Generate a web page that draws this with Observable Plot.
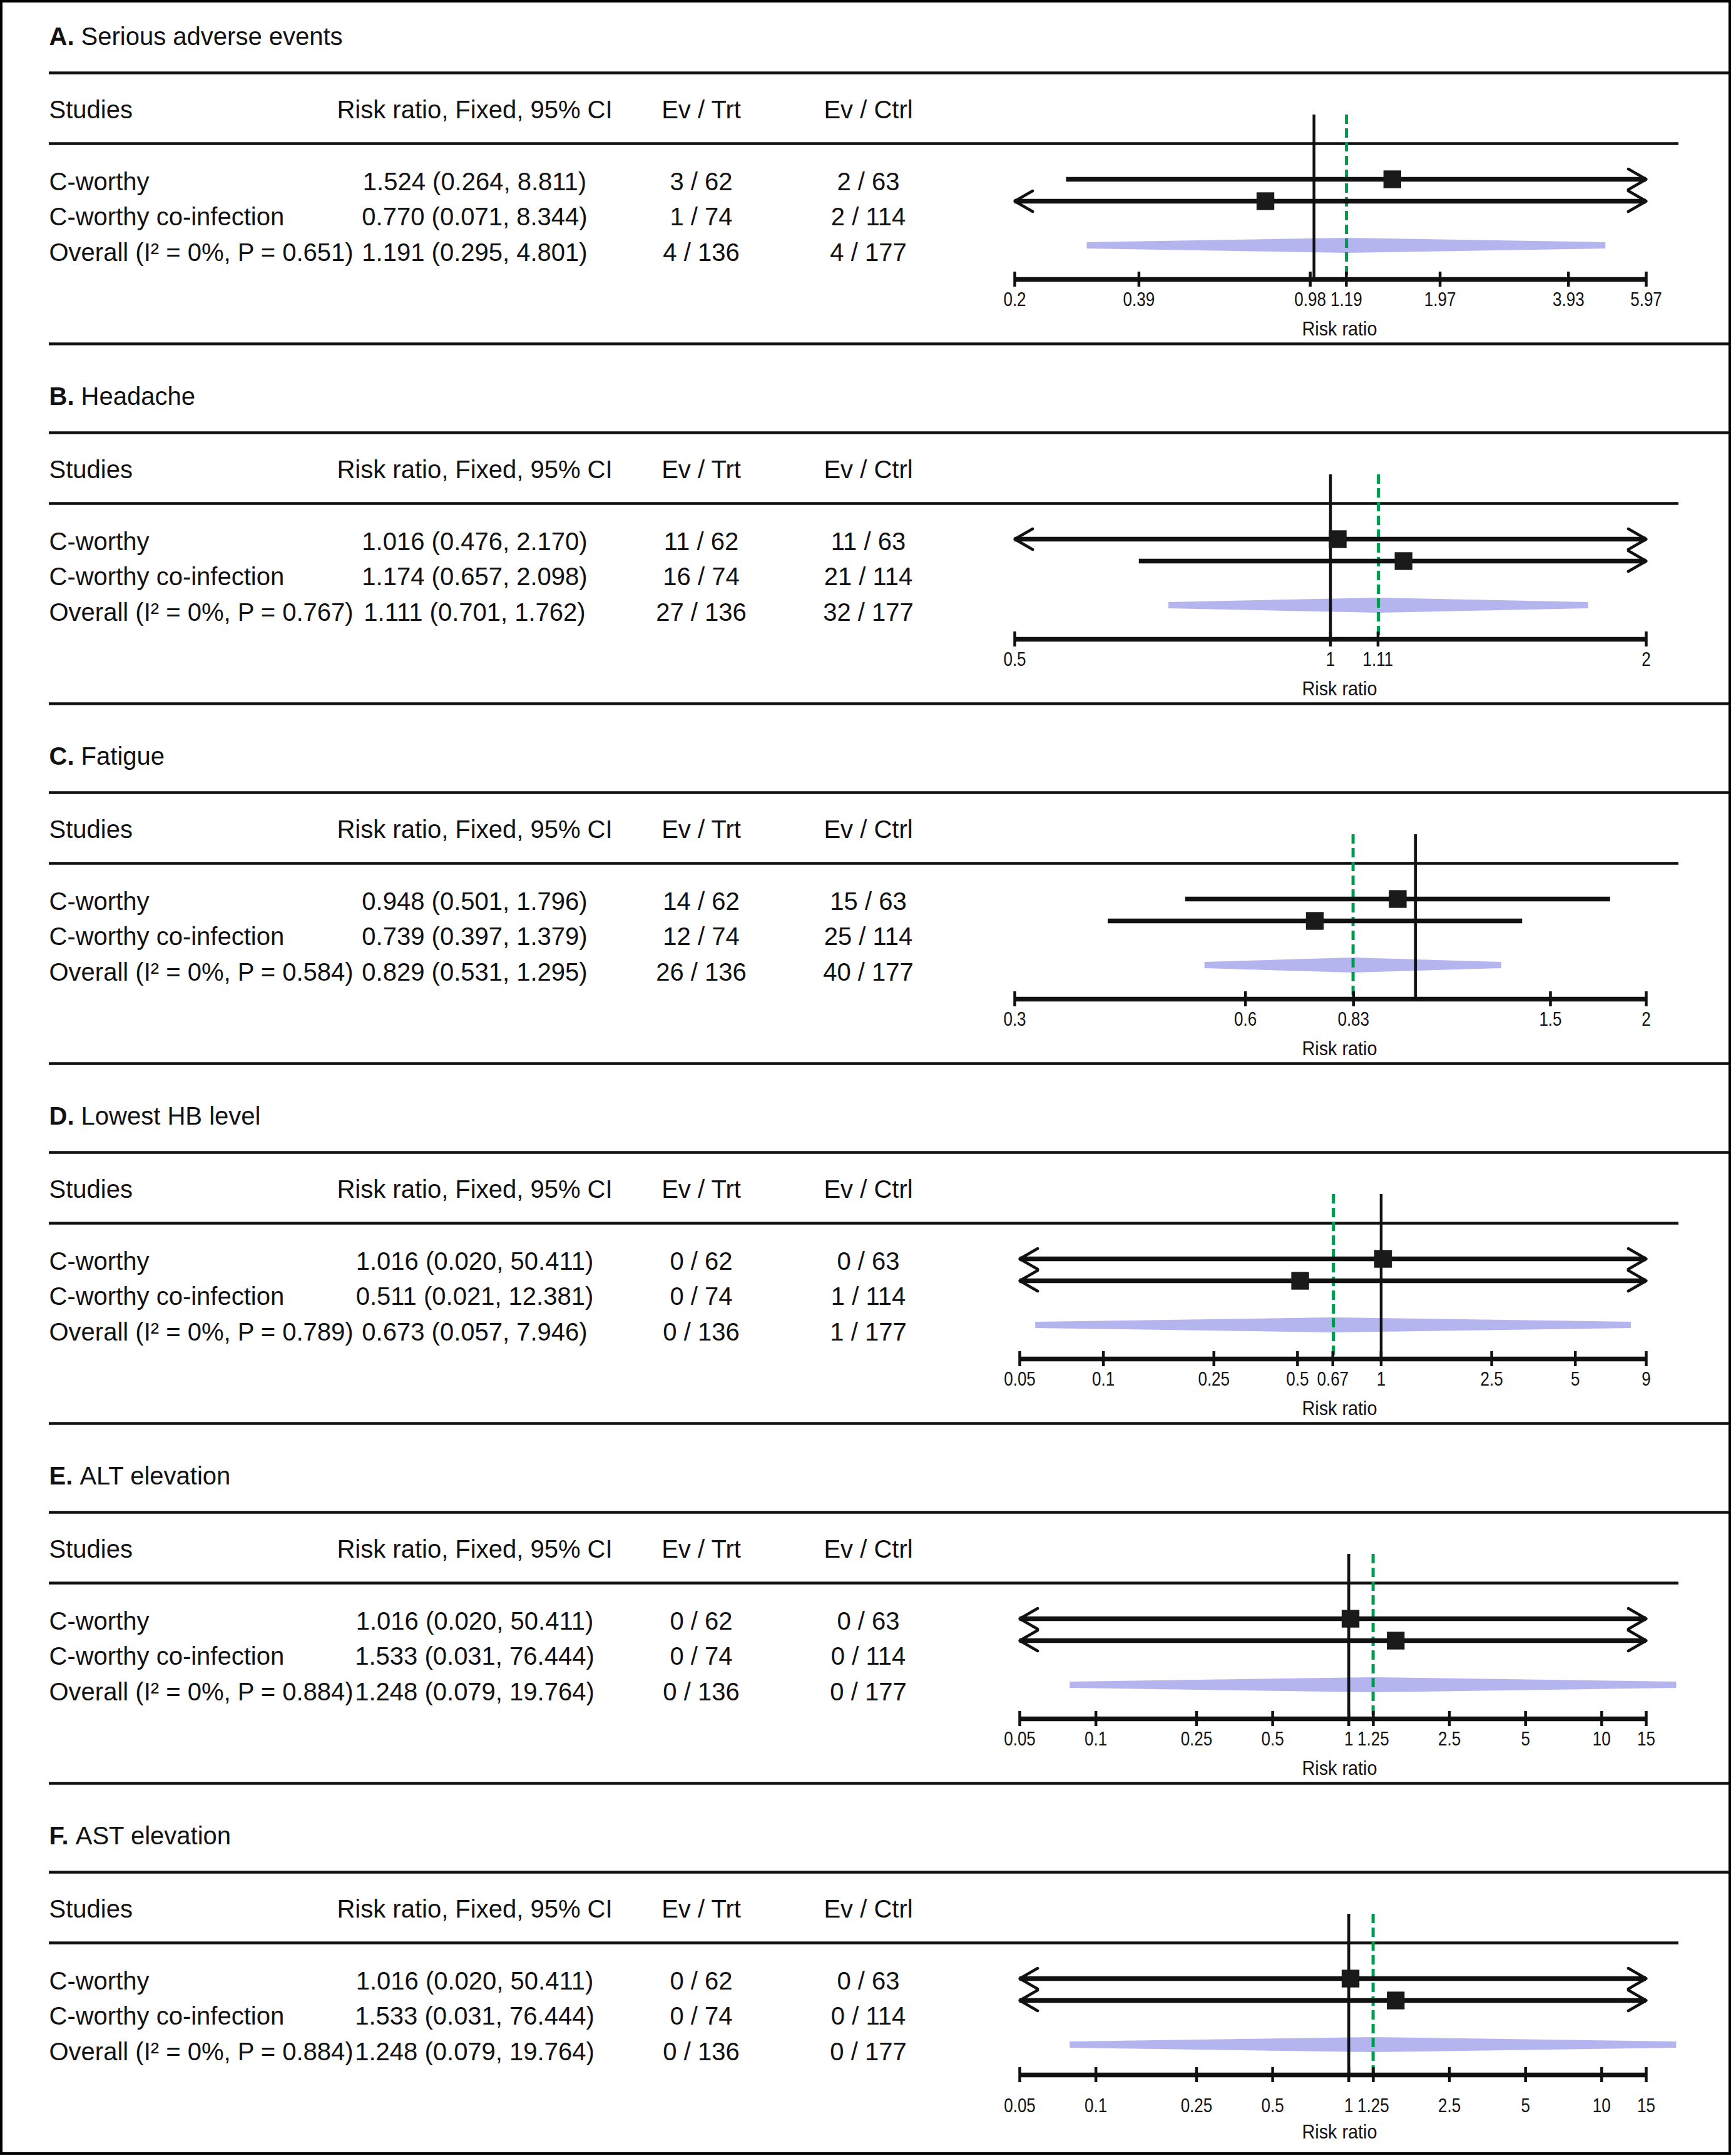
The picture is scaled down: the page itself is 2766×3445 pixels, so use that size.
<!DOCTYPE html>
<html>
<head>
<meta charset="utf-8">
<script src="https://cdn.jsdelivr.net/npm/d3@7"></script>
<script src="https://cdn.jsdelivr.net/npm/@observablehq/plot@0.6"></script>
<style>
html, body { margin: 0; padding: 0; background: #fff; }
#fig { position: relative; width: 2766px; height: 3445px; overflow: hidden; background: #fff; }
#frame { position: absolute; left: 0; top: 0; width: 2766px; height: 3443px; box-sizing: border-box; border: 4px solid #000; pointer-events: none; z-index: 5; }
.panel { position: absolute; left: 0; }
</style>
</head>
<body>
<div id="fig"><div id="frame"></div></div>
<script>
// ---------------- DATA ----------------
const panelLetters = ["A", "B", "C", "D", "E", "F"];
const panelTitles = ["Serious adverse events", "Headache", "Fatigue", "Lowest HB level", "ALT elevation", "AST elevation"];
const studies = ["C-worthy", "C-worthy co-infection"];
const studyRR = [[1.524, 0.770], [1.016, 1.174], [0.948, 0.739], [1.016, 0.511], [1.016, 1.533], [1.016, 1.533]];
const studyLo = [[0.264, 0.071], [0.476, 0.657], [0.501, 0.397], [0.020, 0.021], [0.020, 0.031], [0.020, 0.031]];
const studyHi = [[8.811, 8.344], [2.170, 2.098], [1.796, 1.379], [50.411, 12.381], [50.411, 76.444], [50.411, 76.444]];
const overallRR = [1.191, 1.111, 0.829, 0.673, 1.248, 1.248];
const overallLo = [0.295, 0.701, 0.531, 0.057, 0.079, 0.079];
const overallHi = [4.801, 1.762, 1.295, 7.946, 19.764, 19.764];
const heterogeneityI2 = [0, 0, 0, 0, 0, 0];
const heterogeneityP = ["0.651", "0.767", "0.584", "0.789", "0.884", "0.884"];
const eventsTrt = [[3, 1], [11, 16], [14, 12], [0, 0], [0, 0], [0, 0]];
const eventsCtrl = [[2, 2], [11, 21], [15, 25], [0, 1], [0, 0], [0, 0]];
const nTrt = [62, 74];
const nCtrl = [63, 114];
const axisDomains = [[0.2, 5.97], [0.5, 2], [0.3, 2], [0.05, 9], [0.05, 15], [0.05, 15]];
const axisTicks = [
  [0.2, 0.39, 0.98, 1.19, 1.97, 3.93, 5.97],
  [0.5, 1, 1.11, 2],
  [0.3, 0.6, 0.83, 1.5, 2],
  [0.05, 0.1, 0.25, 0.5, 0.67, 1, 2.5, 5, 9],
  [0.05, 0.1, 0.25, 0.5, 1, 1.25, 2.5, 5, 10, 15],
  [0.05, 0.1, 0.25, 0.5, 1, 1.25, 2.5, 5, 10, 15]
];
const headerLabels = ["Studies", "Risk ratio, Fixed, 95% CI", "Ev / Trt", "Ev / Ctrl"];
const nullValue = 1;
const axisTitle = "Risk ratio";

// ---------------- LAYOUT ----------------
const FONT = "'Liberation Sans', Arial, Helvetica, sans-serif";
const W = 2766, TOTAL_H = 3445, PITCH = 575;
const LEFT = 78, RIGHT_FRAME = 2763, RULE2_END = 2682, AXIS_END = 2630;
const TICK_FS = 31, AXIS_FS = 32;
const BASE = {title: 59, rule1: 116, header: 176, rule2: 229, rows: [291, 347, 404],
  vertTop: 183, ci: [286, 321], diamond: 392, axis: 446, tickLab: 479, axisLab: 525, sep: 549};
const colDx = {label: 0, ci: 680, trt: 1042, ctrl: 1309};
const fig = document.getElementById("fig");
const ctx = document.createElement("canvas").getContext("2d");
const fmt3 = v => v.toFixed(3);

// horizontally condense text of a given font size (mimics the narrow face of the original)
function condense(svg, fs, sx) {
  svg.querySelectorAll(`g[font-size="${fs}"] text`).forEach(t => {
    const tr = t.getAttribute("transform");
    if (tr) t.setAttribute("transform", `${tr} scale(${sx},1)`);
  });
}

panelLetters.forEach((letter, k) => {
  const last = k === panelLetters.length - 1;
  const H = last ? TOTAL_H - k * PITCH : PITCH;
  const lay = last ? {...BASE, axis: 440, tickLab: 490, axisLab: 531} : BASE;
  const dom = axisDomains[k];
  const range = [dom[0] < 0.1 ? 1629 : 1621, AXIS_END];
  const xs = d3.scaleLog().domain(dom).range(range);
  const clamp = v => Math.max(dom[0], Math.min(dom[1], v));

  const rows = studies.map((s, i) => ({
    label: s,
    rr: studyRR[k][i], lo: studyLo[k][i], hi: studyHi[k][i],
    ci: `${fmt3(studyRR[k][i])} (${fmt3(studyLo[k][i])}, ${fmt3(studyHi[k][i])})`,
    trt: `${eventsTrt[k][i]} / ${nTrt[i]}`,
    ctrl: `${eventsCtrl[k][i]} / ${nCtrl[i]}`,
    yText: lay.rows[i], yCI: lay.ci[i]
  }));
  const overall = {
    label: `Overall (I² = ${heterogeneityI2[k]}%, P = ${heterogeneityP[k]})`,
    ci: `${fmt3(overallRR[k])} (${fmt3(overallLo[k])}, ${fmt3(overallHi[k])})`,
    trt: `${d3.sum(eventsTrt[k])} / ${d3.sum(nTrt)}`,
    ctrl: `${d3.sum(eventsCtrl[k])} / ${d3.sum(nCtrl)}`,
    yText: lay.rows[2]
  };
  const table = [
    {label: headerLabels[0], ci: headerLabels[1], trt: headerLabels[2], ctrl: headerLabels[3], yText: lay.header},
    ...rows, overall
  ];

  const yc = lay.diamond;
  const diamond = [
    {x: overallLo[k], y1: yc - 5, y2: yc + 5},
    {x: overallRR[k], y1: yc - 12, y2: yc + 12},
    {x: overallHi[k], y1: yc - 5, y2: yc + 5}
  ];

  const arrows = [];
  rows.forEach(r => {
    if (r.lo < dom[0]) arrows.push({x1: r.rr, x2: dom[0], y: r.yCI});
    if (r.hi > dom[1]) arrows.push({x1: r.rr, x2: dom[1], y: r.yCI});
  });

  ctx.font = `bold 40px ${FONT}`;
  const wLetter = ctx.measureText(letter + ".").width;
  ctx.font = `40px ${FONT}`;
  const wSpace = ctx.measureText(" ").width;

  const textMarks = [
    ["label", "start"], ["ci", "middle"], ["trt", "middle"], ["ctrl", "middle"]
  ].map(([key, anchor]) => Plot.text(table, {
    y: "yText", text: key, frameAnchor: "left", dx: colDx[key], textAnchor: anchor,
    fontSize: 40, fill: "#111"
  }));

  const hRules = last ? [lay.rule1] : [lay.rule1, lay.sep];

  const chart = Plot.plot({
    width: W, height: H,
    marginLeft: LEFT, marginRight: W - RIGHT_FRAME, marginTop: 0, marginBottom: 0,
    x: {type: "log", domain: dom, range, axis: null},
    y: {type: "linear", domain: [0, H], range: [0, H], axis: null},
    style: {fontFamily: FONT, background: "#fff", color: "#111", overflow: "visible"},
    marks: [
      Plot.ruleY(hRules, {stroke: "#111", strokeWidth: 4.5}),
      Plot.ruleY([lay.rule2], {x1: xs.invert(LEFT), x2: xs.invert(RULE2_END), stroke: "#111", strokeWidth: 4.5}),
      Plot.text([{t: letter + ".", y: lay.title}], {text: "t", y: "y", frameAnchor: "left", textAnchor: "start", fontSize: 40, fontWeight: "bold", fill: "#111"}),
      Plot.text([{t: panelTitles[k], y: lay.title}], {text: "t", y: "y", frameAnchor: "left", dx: wLetter + wSpace, textAnchor: "start", fontSize: 40, fill: "#111"}),
      ...textMarks,
      Plot.areaY(diamond, {x: "x", y1: "y1", y2: "y2", fill: "#b0b0ee", fillOpacity: 0.95}),
      Plot.ruleX([nullValue], {y1: lay.vertTop, y2: lay.axis, stroke: "#111", strokeWidth: 4.5}),
      Plot.ruleX([overallRR[k]], {y1: lay.vertTop, y2: lay.axis, stroke: "#009a4e", strokeWidth: 5, strokeDasharray: "15,7"}),
      Plot.ruleY(rows, {y: "yCI", x1: d => clamp(d.lo), x2: d => clamp(d.hi), stroke: "#111", strokeWidth: 7.5}),
      Plot.arrow(arrows, {x1: "x1", x2: "x2", y1: "y", y2: "y", stroke: "#111", strokeWidth: 4.5, headLength: 11, headAngle: 60}),
      Plot.dot(rows, {x: "rr", y: "yCI", symbol: "square", r: 16, fill: "#1a1a1a", stroke: null}),
      Plot.ruleY([lay.axis], {x1: dom[0], x2: dom[1], stroke: "#111", strokeWidth: 7.5}),
      Plot.ruleX(axisTicks[k], {x: d => d, y1: lay.axis - 12, y2: lay.axis + 12, stroke: "#111", strokeWidth: 4.5}),
      Plot.text(axisTicks[k], {x: d => d, y: () => lay.tickLab, text: d => String(d), fontSize: TICK_FS, fill: "#111"}),
      Plot.text([{t: axisTitle, y: lay.axisLab}], {text: "t", y: "y", frameAnchor: "left", dx: 2140 - LEFT, textAnchor: "middle", fontSize: AXIS_FS, fill: "#111"})
    ]
  });
  condense(chart, TICK_FS, 0.84);
  condense(chart, AXIS_FS, 0.9);
  const wrap = document.createElement("div");
  wrap.className = "panel";
  wrap.style.top = (k * PITCH) + "px";
  wrap.appendChild(chart);
  fig.appendChild(wrap);
});
</script>
</body>
</html>
